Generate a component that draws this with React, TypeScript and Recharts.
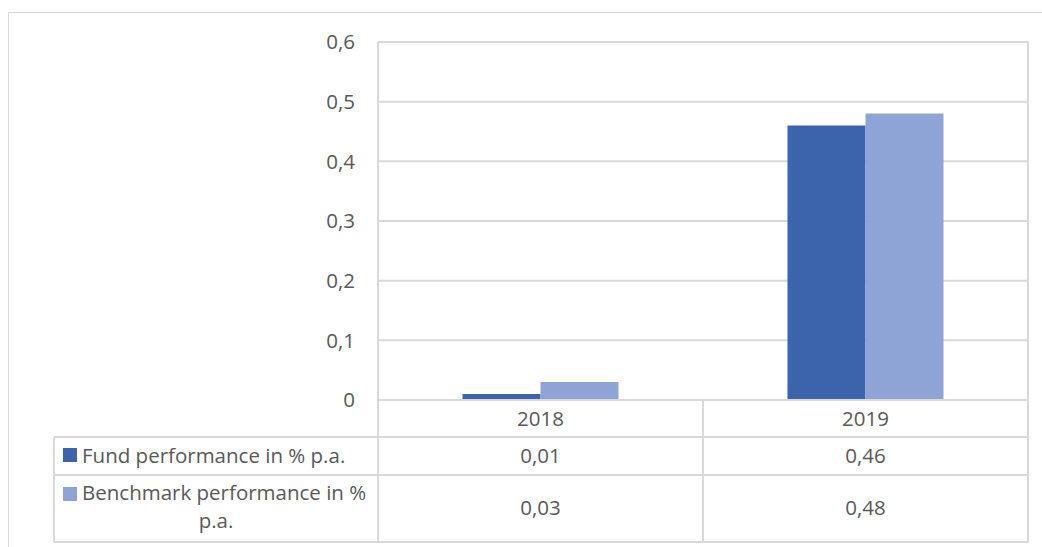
import { BarChart, Bar, XAxis, YAxis, CartesianGrid } from 'recharts';

// values (with its data table)
const years = ['2018', '2019'];
const fundPerf = [0.01, 0.46];
const benchPerf = [0.03, 0.48];
const seriesNames = ['Fund performance in % p.a.', 'Benchmark performance in % p.a.'];
const yTicks = [0, 0.1, 0.2, 0.3, 0.4, 0.5, 0.6];

const data = years.map((year, i) => ({ year, fund: fundPerf[i], bench: benchPerf[i] }));

const W = 1042;
const H = 547;
const PLOT_LEFT = 378;
const PLOT_RIGHT = 1028;
const PLOT_TOP = 42;
const PLOT_BOTTOM = 400;
const TABLE_LEFT = 54;
const ROW1 = 437;
const ROW2 = 475;
const TABLE_BOTTOM = 542;

const GRID = '#D9D9D9';
const TEXT = '#595959';
const FUND = '#3B64AD';
const BENCH = '#8FA4D6';
const FONT = 20.5;

const fmt = (v: number) => String(v).replace('.', ',');

const TableTick = (props: any) => {
  const { x, y, payload, index } = props;
  return (
    <g>
      <text x={x} y={y + 26} textAnchor="middle" fill={TEXT} fontSize={FONT}>
        {payload.value}
      </text>
      <text x={x} y={y + 63} textAnchor="middle" fill={TEXT} fontSize={FONT}>
        {fmt(fundPerf[index])}
      </text>
      <text x={x} y={y + 115} textAnchor="middle" fill={TEXT} fontSize={FONT}>
        {fmt(benchPerf[index])}
      </text>
    </g>
  );
};

const TableLines = () => {
  const colW = (PLOT_RIGHT - PLOT_LEFT) / years.length;
  return (
    <svg
      width={W}
      height={H}
      style={{ position: 'absolute', left: 0, top: 0, pointerEvents: 'none' }}
    >
      {/* outer chart frame, cut off at right/bottom */}
      <line x1={8.5} y1={12.5} x2={W} y2={12.5} stroke={GRID} />
      <line x1={8.5} y1={12.5} x2={8.5} y2={H} stroke={GRID} />

      {/* data table grid */}
      {[ROW1, ROW2, TABLE_BOTTOM].map((yy) => (
        <line key={yy} x1={TABLE_LEFT} y1={yy} x2={PLOT_RIGHT} y2={yy} stroke={GRID} strokeWidth={2} />
      ))}
      <line x1={TABLE_LEFT} y1={ROW1} x2={TABLE_LEFT} y2={TABLE_BOTTOM} stroke={GRID} strokeWidth={2} />
      <line x1={PLOT_LEFT} y1={PLOT_TOP} x2={PLOT_LEFT} y2={TABLE_BOTTOM} stroke={GRID} strokeWidth={2} />
      <line x1={PLOT_RIGHT} y1={PLOT_TOP} x2={PLOT_RIGHT} y2={TABLE_BOTTOM} stroke={GRID} strokeWidth={2} />
      {years.slice(1).map((_, i) => {
        const xx = PLOT_LEFT + colW * (i + 1);
        return <line key={i} x1={xx} y1={PLOT_BOTTOM} x2={xx} y2={TABLE_BOTTOM} stroke={GRID} strokeWidth={2} />;
      })}

      {/* legend keys in the table */}
      <rect x={63} y={448} width={14} height={14} fill={FUND} />
      <text x={82} y={463} fill={TEXT} fontSize={FONT}>{seriesNames[0]}</text>
      <rect x={63} y={487} width={14} height={14} fill={BENCH} />
      <text x={82} y={500} fill={TEXT} fontSize={FONT}>Benchmark performance in %</text>
      <text x={(TABLE_LEFT + PLOT_LEFT) / 2} y={528} textAnchor="middle" fill={TEXT} fontSize={FONT}>p.a.</text>
    </svg>
  );
};

export default function App() {
  return (
    <div
      style={{
        position: 'absolute',
        left: 0,
        top: 0,
        width: W,
        height: H,
        background: '#fff',
        fontFamily: '"Open Sans", sans-serif',
      }}
    >
      <BarChart
        width={W}
        height={H}
        data={data}
        margin={{ top: PLOT_TOP, right: W - PLOT_RIGHT, left: PLOT_LEFT - 60, bottom: 0 }}
        barCategoryGap="26%"
        barGap={0}
      >
        <CartesianGrid vertical={false} stroke={GRID} strokeWidth={2} />
        <XAxis
          dataKey="year"
          height={H - PLOT_BOTTOM}
          axisLine={{ stroke: GRID, strokeWidth: 2 }}
          tickLine={false}
          tickSize={0}
          tickMargin={0}
          tick={<TableTick />}
          interval={0}
        />
        <YAxis
          width={60}
          domain={[0, 0.6]}
          ticks={yTicks}
          axisLine={false}
          tickLine={false}
          tickSize={0}
          tickMargin={23}
          tickFormatter={fmt}
          tick={{ fill: TEXT, fontSize: FONT }}
        />
        <Bar dataKey="fund" name={seriesNames[0]} fill={FUND} isAnimationActive={false} />
        <Bar dataKey="bench" name={seriesNames[1]} fill={BENCH} isAnimationActive={false} />
      </BarChart>
      <TableLines />
    </div>
  );
}
